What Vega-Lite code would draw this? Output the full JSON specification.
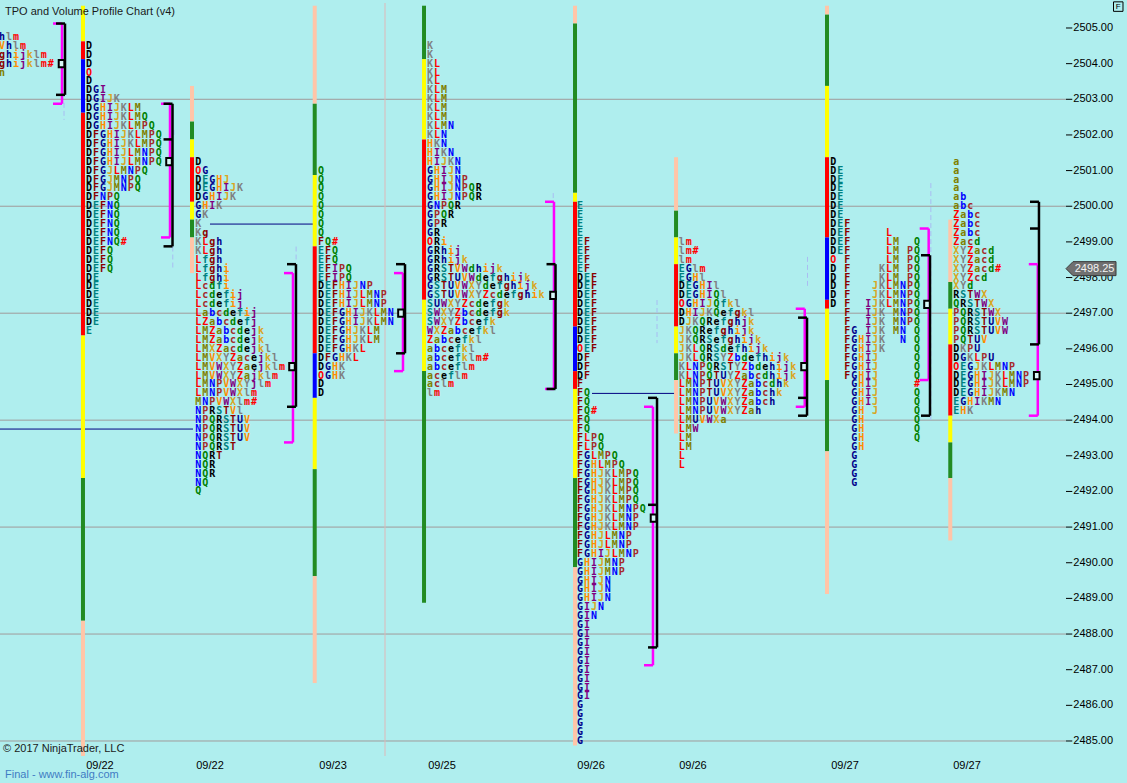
{
"$schema":"https://vega.github.io/schema/vega-lite/v6.json",
"width":1066,"height":753,
"autosize":{"type":"none"},
"padding":{"left":0,"top":3,"right":61,"bottom":27},
"background":"#AFEEEE",
"config":{"view":{"stroke":null},"axis":{"grid":false}},
"resolve":{"scale":{"x":"independent","stroke":"independent"}},
"layer":[
{"layer":[
{"data":{"values":[{"y":2503},{"y":2500},{"y":2497},{"y":2494},{"y":2491},{"y":2488},{"y":2485}]},
"mark":{"type":"rule","color":"#A09A9A","strokeWidth":1},
"encoding":{"y":{"field":"y","type":"quantitative","scale":{"domain":[2484.579,2505.701]},"axis":null}}},
{"data":{"values":[{"x":55.26}]},"mark":{"type":"rule","color":"#DDB8B8","strokeWidth":1},
"encoding":{"x":{"field":"x","type":"quantitative","scale":{"domain":[0,153]},"axis":null}}},
{"data":{"values":[{"x":0,"x2":27.7,"y":2493.75},{"x":30.14,"x2":45.35,"y":2499.5},{"x":84.97,"x2":97.17,"y":2494.75}]},
"mark":{"type":"rule","color":"#000080","strokeWidth":1},
"encoding":{"x":{"field":"x","type":"quantitative","scale":{"domain":[0,153]},"axis":null},"x2":{"field":"x2"},
"y":{"field":"y","type":"quantitative","scale":{"domain":[2484.579,2505.701]},"axis":null}}},
{"data":{"values":[
{"x":11.91,"y":2505.625,"b":2504.625,"s":"Y"},{"x":11.91,"y":2504.625,"b":2504.125,"s":"R"},{"x":11.91,"y":2504.125,"b":2502.625,"s":"B"},{"x":11.91,"y":2502.625,"b":2496.375,"s":"R"},{"x":11.91,"y":2496.375,"b":2492.375,"s":"Y"},{"x":11.91,"y":2492.375,"b":2488.375,"s":"G"},{"x":11.91,"y":2488.375,"b":2484.58,"s":"P"},
{"x":27.56,"y":2503.375,"b":2502.375,"s":"P"},{"x":27.56,"y":2502.375,"b":2501.875,"s":"G"},{"x":27.56,"y":2501.875,"b":2501.375,"s":"Y"},{"x":27.56,"y":2501.375,"b":2500.125,"s":"R"},{"x":27.56,"y":2500.125,"b":2499.625,"s":"Y"},{"x":27.56,"y":2499.625,"b":2499.125,"s":"G"},{"x":27.56,"y":2499.125,"b":2498.125,"s":"P"},
{"x":45.17,"y":2505.625,"b":2502.875,"s":"P"},{"x":45.17,"y":2502.875,"b":2500.875,"s":"G"},{"x":45.17,"y":2500.875,"b":2498.875,"s":"Y"},{"x":45.17,"y":2498.875,"b":2495.875,"s":"R"},{"x":45.17,"y":2495.875,"b":2494.625,"s":"B"},{"x":45.17,"y":2494.625,"b":2492.625,"s":"Y"},{"x":45.17,"y":2492.625,"b":2489.625,"s":"G"},{"x":45.17,"y":2489.625,"b":2486.625,"s":"P"},
{"x":60.86,"y":2505.625,"b":2504.125,"s":"G"},{"x":60.86,"y":2504.125,"b":2501.875,"s":"Y"},{"x":60.86,"y":2501.875,"b":2497.375,"s":"R"},{"x":60.86,"y":2497.375,"b":2495.375,"s":"Y"},{"x":60.86,"y":2495.375,"b":2488.875,"s":"G"},
{"x":82.53,"y":2505.625,"b":2505.125,"s":"P"},{"x":82.53,"y":2505.125,"b":2500.375,"s":"G"},{"x":82.53,"y":2500.375,"b":2500.125,"s":"Y"},{"x":82.53,"y":2500.125,"b":2496.625,"s":"R"},{"x":82.53,"y":2496.625,"b":2495.375,"s":"B"},{"x":82.53,"y":2495.375,"b":2494.875,"s":"R"},{"x":82.53,"y":2494.875,"b":2492.375,"s":"Y"},{"x":82.53,"y":2492.375,"b":2489.875,"s":"G"},{"x":82.53,"y":2489.875,"b":2484.875,"s":"P"},
{"x":97.03,"y":2501.375,"b":2499.875,"s":"P"},{"x":97.03,"y":2499.875,"b":2499.125,"s":"G"},{"x":97.03,"y":2499.125,"b":2498.375,"s":"Y"},{"x":97.03,"y":2498.375,"b":2496.625,"s":"R"},{"x":97.03,"y":2496.625,"b":2495.875,"s":"Y"},{"x":97.03,"y":2495.875,"b":2495.125,"s":"G"},{"x":97.03,"y":2495.125,"b":2493.625,"s":"P"},
{"x":118.7,"y":2505.625,"b":2505.375,"s":"P"},{"x":118.7,"y":2505.375,"b":2503.375,"s":"G"},{"x":118.7,"y":2503.375,"b":2501.375,"s":"Y"},{"x":118.7,"y":2501.375,"b":2499.125,"s":"R"},{"x":118.7,"y":2499.125,"b":2497.375,"s":"B"},{"x":118.7,"y":2497.375,"b":2497.125,"s":"R"},{"x":118.7,"y":2497.125,"b":2495.125,"s":"Y"},{"x":118.7,"y":2495.125,"b":2493.125,"s":"G"},{"x":118.7,"y":2493.125,"b":2489.125,"s":"P"},
{"x":136.39,"y":2499.625,"b":2497.875,"s":"P"},{"x":136.39,"y":2497.875,"b":2497.125,"s":"G"},{"x":136.39,"y":2497.125,"b":2496.125,"s":"Y"},{"x":136.39,"y":2496.125,"b":2494.125,"s":"R"},{"x":136.39,"y":2494.125,"b":2493.375,"s":"Y"},{"x":136.39,"y":2493.375,"b":2492.375,"s":"G"},{"x":136.39,"y":2492.375,"b":2490.625,"s":"P"}
]},
"mark":{"type":"rule","strokeWidth":4,"strokeCap":"butt"},
"encoding":{"x":{"field":"x","type":"quantitative","scale":{"domain":[0,153]},"axis":null},
"y":{"field":"y","type":"quantitative","scale":{"domain":[2484.579,2505.701]},"axis":null},"y2":{"field":"b"},
"stroke":{"field":"s","type":"nominal","scale":{"domain":["Y","R","B","G","P"],"range":["#FFFF00","#FF0000","#0000FF","#228B22","#FFC5A8"]},"legend":null}}},
{"mark":{"type":"rule","color":"#000000","strokeWidth":1.5},
"encoding":{"x":{"datum":153,"type":"quantitative","scale":{"domain":[0,153]},"axis":null}}},
{"mark":{"type":"rule","color":"#000000","strokeWidth":1.5},
"encoding":{"y":{"datum":2484.579,"type":"quantitative","scale":{"domain":[2484.579,2505.701]},"axis":null}}},
{"data":{"values":[{"y":2485},{"y":2486},{"y":2487},{"y":2488},{"y":2489},{"y":2490},{"y":2491},{"y":2492},{"y":2493},{"y":2494},{"y":2495},{"y":2496},{"y":2497},{"y":2498},{"y":2499},{"y":2500},{"y":2501},{"y":2502},{"y":2503},{"y":2504},{"y":2505}]},
"layer":[
{"mark":{"type":"rule","color":"#000000","strokeWidth":1},
"encoding":{"x":{"datum":153,"type":"quantitative","scale":{"domain":[0,153]},"axis":null},"x2":{"datum":153.9},
"y":{"field":"y","type":"quantitative","scale":{"domain":[2484.579,2505.701]},"axis":null}}},
{"mark":{"type":"text","font":"Liberation Sans","fontSize":11,"align":"left","color":"#000000"},
"encoding":{"x":{"datum":154.05,"type":"quantitative","scale":{"domain":[0,153]},"axis":null},
"y":{"field":"y","type":"quantitative","scale":{"domain":[2484.579,2505.701]},"axis":null},
"text":{"field":"y","type":"quantitative","format":".2f"}}}
]}
]},
{"data":{"values":[
{"y":2504.75,"t":["h","l","m"]},{"y":2504.5,"t":["V","h","l","m"]},{"y":2504.25,"t":["g","h","i","j","k","l","m"]},{"y":2504.0,"t":["g","h","i","j","k","l","m","#"]},{"y":2503.75,"t":["n"]}]},
"transform":[{"flatten":["t"]},{"window":[{"op":"row_number","as":"k"}],"groupby":["y"]}],
"mark":{"type":"text","font":"DejaVu Sans Mono","fontWeight":"bold","fontSize":10,"clip":true},
"encoding":{"x":{"field":"k","type":"quantitative","scale":{"domain":[0.713,153.713]},"axis":null},
"y":{"field":"y","type":"quantitative","scale":{"domain":[2484.579,2505.701]},"axis":null},
"text":{"field":"t","type":"nominal"},
"color":{"field":"t","type":"nominal","legend":null,"scale":{"domain":["D","E","F","G","H","I","J","K","L","M","N","O","P","Q","R","S","T","U","V","W","X","Y","Z","a","b","c","d","e","f","g","h","i","j","k","l","m","n","#"],
"range":["#000000","#008080","#8B0000","#00008B","#FF8C00","#800080","#DAA520","#808080","#FF0000","#808000","#0000FF","#FF0000","#A52A2A","#008000","#000000","#008080","#8B0000","#00008B","#FF8C00","#800080","#DAA520","#808080","#FF0000","#808000","#0000FF","#A52A2A","#008000","#000000","#008080","#8B0000","#00008B","#FF8C00","#800080","#DAA520","#808080","#FF0000","#808000","#FF0000"]}}}},
{"data":{"values":[
{"y":2504.5,"t":["D"]},{"y":2504.25,"t":["D"]},{"y":2504.0,"t":["D"]},{"y":2503.75,"t":["O"]},{"y":2503.5,"t":["D"]},
{"y":2503.25,"t":["D","G","I"]},{"y":2503.0,"t":["D","G","I","J","K"]},
{"y":2502.75,"t":["D","G","H","I","J","K","L","M"]},{"y":2502.5,"t":["D","G","H","I","J","K","L","M","Q"]},
{"y":2502.25,"t":["D","G","H","I","J","K","L","M","P","Q"]},{"y":2502.0,"t":["D","F","G","H","I","J","K","L","M","P","Q"]},
{"y":2501.75,"t":["D","F","G","H","I","J","K","L","M","P","Q"]},{"y":2501.5,"t":["D","F","G","H","I","J","L","M","N","P","Q"]},
{"y":2501.25,"t":["D","F","G","H","I","J","L","M","N","P","Q"]},{"y":2501.0,"t":["D","F","G","J","L","M","N","P","Q"]},
{"y":2500.75,"t":["D","F","G","J","M","N","P","Q"]},{"y":2500.5,"t":["D","F","G","J","M","N","P","Q"]},
{"y":2500.25,"t":["D","F","N","P","Q"]},{"y":2500.0,"t":["D","E","F","N","Q"]},{"y":2499.75,"t":["D","E","F","N","Q"]},
{"y":2499.5,"t":["D","E","F","N","Q"]},{"y":2499.25,"t":["D","E","F","N","Q"]},{"y":2499.0,"t":["D","E","F","N","Q","#"]},
{"y":2498.75,"t":["D","E","F","Q"]},{"y":2498.5,"t":["D","E","F","Q"]},{"y":2498.25,"t":["D","E","F","Q"]},
{"y":2498.0,"t":["D","E"]},{"y":2497.75,"t":["D","E"]},{"y":2497.5,"t":["D","E"]},{"y":2497.25,"t":["D","E"]},
{"y":2497.0,"t":["D","E"]},{"y":2496.75,"t":["D","E"]},{"y":2496.5,"t":["E"]}]},
"transform":[{"flatten":["t"]},{"window":[{"op":"row_number","as":"k"}],"groupby":["y"]}],
"mark":{"type":"text","font":"DejaVu Sans Mono","fontWeight":"bold","fontSize":10},
"encoding":{"x":{"field":"k","type":"quantitative","scale":{"domain":[-11.774,141.226]},"axis":null},
"y":{"field":"y","type":"quantitative","scale":{"domain":[2484.579,2505.701]},"axis":null},
"text":{"field":"t","type":"nominal"},"color":{"field":"t","type":"nominal","legend":null}}},
{"data":{"values":[
{"y":2501.25,"t":["D"]},{"y":2501.0,"t":["O","G"]},{"y":2500.75,"t":["D","E","G","H","J"]},{"y":2500.5,"t":["D","E","G","H","I","J","K"]},
{"y":2500.25,"t":["D","G","H","I","J","K"]},{"y":2500.0,"t":["G","H","I","K"]},{"y":2499.75,"t":["G","K"]},{"y":2499.5,"t":["K"]},
{"y":2499.25,"t":["K","g"]},{"y":2499.0,"t":["K","L","g","h"]},{"y":2498.75,"t":["K","L","g","h"]},{"y":2498.5,"t":["L","f","g","h"]},
{"y":2498.25,"t":["L","f","g","h","i"]},{"y":2498.0,"t":["L","f","g","h","i"]},{"y":2497.75,"t":["L","c","d","f","i"]},
{"y":2497.5,"t":["L","c","d","e","f","i","j"]},{"y":2497.25,"t":["L","c","d","e","f","i","j"]},
{"y":2497.0,"t":["L","a","b","c","d","e","f","i","j"]},{"y":2496.75,"t":["L","Z","a","b","c","d","e","f","j"]},
{"y":2496.5,"t":["L","M","Z","a","b","c","d","e","j","k"]},{"y":2496.25,"t":["L","M","Z","a","b","c","d","e","j","k"]},
{"y":2496.0,"t":["L","M","X","Z","a","c","d","e","j","k","l"]},{"y":2495.75,"t":["L","M","V","X","Y","Z","a","c","e","j","k","l"]},
{"y":2495.5,"t":["L","M","V","W","X","Y","Z","a","e","j","k","l","m"]},{"y":2495.25,"t":["L","M","V","W","X","Y","Z","a","j","k","l","m"]},
{"y":2495.0,"t":["L","M","N","P","V","W","X","Y","j","l","m"]},{"y":2494.75,"t":["L","M","N","P","V","W","X","l","m"]},
{"y":2494.5,"t":["M","N","P","V","W","X","l","m","#"]},{"y":2494.25,"t":["N","P","R","S","T","V","l"]},
{"y":2494.0,"t":["N","P","Q","R","S","T","U","V"]},{"y":2493.75,"t":["N","P","Q","R","S","T","U","V"]},{"y":2493.5,"t":["N","P","Q","R","S","T","U","V"]},
{"y":2493.25,"t":["N","P","Q","R","S","T"]},{"y":2493.0,"t":["N","Q","R","T"]},{"y":2492.75,"t":["N","Q","R"]},{"y":2492.5,"t":["N","Q","R"]},
{"y":2492.25,"t":["N","Q"]},{"y":2492.0,"t":["Q"]}]},
"transform":[{"flatten":["t"]},{"window":[{"op":"row_number","as":"k"}],"groupby":["y"]}],
"mark":{"type":"text","font":"DejaVu Sans Mono","fontWeight":"bold","fontSize":10},
"encoding":{"x":{"field":"k","type":"quantitative","scale":{"domain":[-27.462,125.538]},"axis":null},
"y":{"field":"y","type":"quantitative","scale":{"domain":[2484.579,2505.701]},"axis":null},
"text":{"field":"t","type":"nominal"},"color":{"field":"t","type":"nominal","legend":null}}},
{"data":{"values":[
{"y":2501.0,"t":["Q"]},{"y":2500.75,"t":["Q"]},{"y":2500.5,"t":["Q"]},{"y":2500.25,"t":["Q"]},{"y":2500.0,"t":["Q"]},{"y":2499.75,"t":["Q"]},
{"y":2499.5,"t":["Q"]},{"y":2499.25,"t":["Q"]},{"y":2499.0,"t":["F","Q","#"]},{"y":2498.75,"t":["E","F","Q"]},{"y":2498.5,"t":["E","F","Q"]},
{"y":2498.25,"t":["E","F","I","P","Q"]},{"y":2498.0,"t":["E","F","I","P","Q"]},{"y":2497.75,"t":["D","E","F","H","I","J","N","P"]},
{"y":2497.5,"t":["D","E","F","H","I","J","L","M","N","P"]},{"y":2497.25,"t":["D","E","F","H","I","J","L","M","N","P"]},
{"y":2497.0,"t":["D","E","F","G","H","I","J","K","L","M","N"]},{"y":2496.75,"t":["D","E","F","G","H","I","J","K","L","M","N"]},
{"y":2496.5,"t":["D","E","F","G","H","J","K","L","M"]},{"y":2496.25,"t":["D","E","F","G","H","J","K","L","M"]},
{"y":2496.0,"t":["D","E","F","G","H","K","L"]},{"y":2495.75,"t":["D","F","G","H","K","L"]},{"y":2495.5,"t":["D","G","H","K"]},
{"y":2495.25,"t":["O","G","H","K"]},{"y":2495.0,"t":["D"]},{"y":2494.75,"t":["D"]}]},
"transform":[{"flatten":["t"]},{"window":[{"op":"row_number","as":"k"}],"groupby":["y"]}],
"mark":{"type":"text","font":"DejaVu Sans Mono","fontWeight":"bold","fontSize":10},
"encoding":{"x":{"field":"k","type":"quantitative","scale":{"domain":[-45.073,107.927]},"axis":null},
"y":{"field":"y","type":"quantitative","scale":{"domain":[2484.579,2505.701]},"axis":null},
"text":{"field":"t","type":"nominal"},"color":{"field":"t","type":"nominal","legend":null}}},
{"data":{"values":[
{"y":2504.5,"t":["K"]},{"y":2504.25,"t":["K"]},{"y":2504.0,"t":["K","L"]},{"y":2503.75,"t":["K","L"]},{"y":2503.5,"t":["K","L"]},
{"y":2503.25,"t":["K","L","M"]},{"y":2503.0,"t":["K","L","M"]},{"y":2502.75,"t":["K","L","M"]},{"y":2502.5,"t":["K","L","M"]},
{"y":2502.25,"t":["K","L","M","N"]},{"y":2502.0,"t":["K","L","N"]},{"y":2501.75,"t":["H","K","N"]},{"y":2501.5,"t":["H","I","K","N"]},
{"y":2501.25,"t":["H","I","J","K","N"]},{"y":2501.0,"t":["G","H","I","J","N"]},{"y":2500.75,"t":["G","H","I","J","N","P"]},
{"y":2500.5,"t":["G","H","I","J","N","P","Q","R"]},{"y":2500.25,"t":["G","H","I","J","N","P","Q","R"]},{"y":2500.0,"t":["G","N","P","Q","R"]},
{"y":2499.75,"t":["G","P","Q","R"]},{"y":2499.5,"t":["G","P","R"]},{"y":2499.25,"t":["G","R"]},{"y":2499.0,"t":["O","R","i"]},
{"y":2498.75,"t":["G","R","h","i","j"]},{"y":2498.5,"t":["G","R","h","i","j","k"]},
{"y":2498.25,"t":["G","R","S","T","V","W","d","h","i","j","k"]},{"y":2498.0,"t":["G","R","S","T","U","V","W","d","e","f","g","h","i","j","k"]},
{"y":2497.75,"t":["G","S","T","U","V","W","X","Y","d","e","f","g","h","i","j","k"]},
{"y":2497.5,"t":["G","S","T","U","V","W","X","Y","Z","c","d","e","f","g","h","i","k"]},
{"y":2497.25,"t":["S","U","W","X","Y","Z","c","d","e","f","g","k"]},{"y":2497.0,"t":["S","W","X","Y","Z","b","c","d","e","f","g","k"]},
{"y":2496.75,"t":["S","W","X","Y","Z","b","c","e","f","k"]},{"y":2496.5,"t":["W","X","Z","a","b","c","e","f","k","l"]},
{"y":2496.25,"t":["Z","a","b","c","e","f","k","l"]},{"y":2496.0,"t":["a","b","c","e","f","k","l"]},
{"y":2495.75,"t":["a","b","c","e","f","k","l","m","#"]},{"y":2495.5,"t":["a","b","c","e","f","l","m"]},
{"y":2495.25,"t":["a","c","e","f","l","m"]},{"y":2495.0,"t":["a","c","l","m"]},{"y":2494.75,"t":["l","m"]}]},
"transform":[{"flatten":["t"]},{"window":[{"op":"row_number","as":"k"}],"groupby":["y"]}],
"mark":{"type":"text","font":"DejaVu Sans Mono","fontWeight":"bold","fontSize":10},
"encoding":{"x":{"field":"k","type":"quantitative","scale":{"domain":[-60.717,92.283]},"axis":null},
"y":{"field":"y","type":"quantitative","scale":{"domain":[2484.579,2505.701]},"axis":null},
"text":{"field":"t","type":"nominal"},"color":{"field":"t","type":"nominal","legend":null}}},
{"data":{"values":[
{"y":2500.0,"t":["E"]},{"y":2499.75,"t":["E"]},{"y":2499.5,"t":["E"]},{"y":2499.25,"t":["E"]},
{"y":2499.0,"t":["E","F"]},{"y":2498.75,"t":["E","F"]},{"y":2498.5,"t":["E","F"]},{"y":2498.25,"t":["E","F"]},
{"y":2498.0,"t":["D","E","F"]},{"y":2497.75,"t":["D","E","F"]},{"y":2497.5,"t":["D","E","F"]},{"y":2497.25,"t":["D","E","F"]},
{"y":2497.0,"t":["D","E","F"]},{"y":2496.75,"t":["D","E","F"]},{"y":2496.5,"t":["D","E","F"]},{"y":2496.25,"t":["D","E","F"]},
{"y":2496.0,"t":["O","E","F"]},{"y":2495.75,"t":["D","F"]},{"y":2495.5,"t":["D","F"]},{"y":2495.25,"t":["D","F"]},{"y":2495.0,"t":["F"]},
{"y":2494.75,"t":["F","Q"]},{"y":2494.5,"t":["F","Q"]},{"y":2494.25,"t":["F","Q","#"]},{"y":2494.0,"t":["F","Q"]},{"y":2493.75,"t":["F","Q"]},
{"y":2493.5,"t":["F","L","P","Q"]},{"y":2493.25,"t":["F","L","P","Q"]},{"y":2493.0,"t":["F","G","L","M","P","Q"]},
{"y":2492.75,"t":["F","G","H","L","M","P","Q"]},{"y":2492.5,"t":["F","G","H","J","K","L","M","P","Q"]},
{"y":2492.25,"t":["F","G","H","J","K","L","M","P","Q"]},{"y":2492.0,"t":["F","G","H","J","K","L","M","P","Q"]},
{"y":2491.75,"t":["F","G","H","J","K","L","M","P","Q"]},{"y":2491.5,"t":["F","G","H","J","K","L","M","N","P","Q"]},
{"y":2491.25,"t":["F","G","H","J","K","L","M","N","P"]},{"y":2491.0,"t":["F","G","H","J","K","L","M","N","P"]},
{"y":2490.75,"t":["F","G","H","J","L","M","N","P"]},{"y":2490.5,"t":["F","G","H","J","L","M","N","P"]},
{"y":2490.25,"t":["F","G","H","I","J","L","M","N","P"]},{"y":2490.0,"t":["G","H","I","J","M","N","P"]},
{"y":2489.75,"t":["G","H","I","J","M","N","P"]},{"y":2489.5,"t":["G","H","I","J","N"]},{"y":2489.25,"t":["G","H","I","J","N"]},
{"y":2489.0,"t":["G","H","I","J","N"]},{"y":2488.75,"t":["G","I","J","N"]},{"y":2488.5,"t":["G","I","N"]},
{"y":2488.25,"t":["G","I"]},{"y":2488.0,"t":["G","I"]},{"y":2487.75,"t":["G","I"]},{"y":2487.5,"t":["G","I"]},{"y":2487.25,"t":["G","I"]},
{"y":2487.0,"t":["G","I"]},{"y":2486.75,"t":["G","I"]},{"y":2486.5,"t":["G","I"]},{"y":2486.25,"t":["G","I"]},
{"y":2486.0,"t":["G"]},{"y":2485.75,"t":["G"]},{"y":2485.5,"t":["G"]},{"y":2485.25,"t":["G"]},{"y":2485.0,"t":["G"]}]},
"transform":[{"flatten":["t"]},{"window":[{"op":"row_number","as":"k"}],"groupby":["y"]}],
"mark":{"type":"text","font":"DejaVu Sans Mono","fontWeight":"bold","fontSize":10},
"encoding":{"x":{"field":"k","type":"quantitative","scale":{"domain":[-82.246,70.754]},"axis":null},
"y":{"field":"y","type":"quantitative","scale":{"domain":[2484.579,2505.701]},"axis":null},
"text":{"field":"t","type":"nominal"},"color":{"field":"t","type":"nominal","legend":null}}},
{"data":{"values":[
{"y":2499.0,"t":["l","m"]},{"y":2498.75,"t":["l","m","#"]},{"y":2498.5,"t":["l","m"]},{"y":2498.25,"t":["E","G","l","m"]},
{"y":2498.0,"t":["E","G","H","l"]},{"y":2497.75,"t":["D","E","G","H","I","l"]},{"y":2497.5,"t":["D","E","G","H","I","Q","l"]},
{"y":2497.25,"t":["O","G","H","I","J","Q","f","k","l"]},{"y":2497.0,"t":["D","H","I","J","K","Q","e","f","g","k","l"]},
{"y":2496.75,"t":["D","J","K","Q","R","e","f","g","h","j","k"]},{"y":2496.5,"t":["J","K","Q","R","e","f","g","h","i","j","k"]},
{"y":2496.25,"t":["J","K","Q","R","S","e","f","g","h","i","j","k"]},{"y":2496.0,"t":["J","K","L","Q","R","S","d","e","f","h","i","j","k"]},
{"y":2495.75,"t":["J","K","L","Q","R","S","Y","Z","b","d","e","f","h","i","j","k"]},
{"y":2495.5,"t":["K","L","N","P","Q","R","S","T","Y","Z","b","d","e","h","i","j","k"]},
{"y":2495.25,"t":["K","L","N","P","Q","T","U","Y","Z","a","b","c","d","h","i","j","k"]},
{"y":2495.0,"t":["L","M","N","P","T","U","V","X","Y","Z","a","b","c","d","h","k"]},
{"y":2494.75,"t":["L","M","N","P","T","U","V","X","Y","Z","a","b","c","h","k"]},
{"y":2494.5,"t":["L","M","N","P","U","V","W","X","Y","Z","a","b","c","h"]},
{"y":2494.25,"t":["L","M","N","P","U","V","W","X","Y","Z","a","h"]},{"y":2494.0,"t":["L","M","U","V","W","X","a"]},
{"y":2493.75,"t":["L","M","W"]},{"y":2493.5,"t":["L","M"]},{"y":2493.25,"t":["L","M"]},{"y":2493.0,"t":["L"]},{"y":2492.75,"t":["L"]}]},
"transform":[{"flatten":["t"]},{"window":[{"op":"row_number","as":"k"}],"groupby":["y"]}],
"mark":{"type":"text","font":"DejaVu Sans Mono","fontWeight":"bold","fontSize":10},
"encoding":{"x":{"field":"k","type":"quantitative","scale":{"domain":[-96.843,56.157]},"axis":null},
"y":{"field":"y","type":"quantitative","scale":{"domain":[2484.579,2505.701]},"axis":null},
"text":{"field":"t","type":"nominal"},"color":{"field":"t","type":"nominal","legend":null}}},
{"data":{"values":[
{"y":2501.25,"t":["D"]},{"y":2501.0,"t":["D","E"]},{"y":2500.75,"t":["D","E"]},{"y":2500.5,"t":["D","E"]},{"y":2500.25,"t":["D","E"]},
{"y":2500.0,"t":["D","E"]},{"y":2499.75,"t":["D","E"]},{"y":2499.5,"t":["D","E","F"]},
{"y":2499.25,"t":["D","E","F","","","","","","L"]},
{"y":2499.0,"t":["D","E","F","","","","","","L","M","","","Q"]},
{"y":2498.75,"t":["D","E","F","","","","","","L","M","","P","Q"]},
{"y":2498.5,"t":["O","","F","","","","","","L","M","","P","Q"]},
{"y":2498.25,"t":["D","","F","","","","","K","L","M","","P","Q"]},
{"y":2498.0,"t":["D","","F","","","","","K","L","M","","P","Q"]},
{"y":2497.75,"t":["D","","F","","","","J","K","L","M","N","P","Q"]},
{"y":2497.5,"t":["D","","F","","","","J","K","L","M","N","P","Q"]},
{"y":2497.25,"t":["D","","F","","","I","J","K","L","M","N","P","Q"]},
{"y":2497.0,"t":["","","F","","","I","J","K","","M","N","P","Q"]},
{"y":2496.75,"t":["","","F","","","I","J","K","","M","N","P","Q"]},
{"y":2496.5,"t":["","","F","G","","I","J","K","","M","N","","Q"]},
{"y":2496.25,"t":["","","F","G","H","I","J","K","","","N","","Q"]},
{"y":2496.0,"t":["","","F","G","H","I","J","K","","","","","Q"]},
{"y":2495.75,"t":["","","F","G","H","I","J","","","","","","Q"]},
{"y":2495.5,"t":["","","F","G","H","I","J","","","","","","Q"]},
{"y":2495.25,"t":["","","F","G","H","I","J","","","","","","Q"]},
{"y":2495.0,"t":["","","","G","H","I","J","","","","","","#"]},
{"y":2494.75,"t":["","","","G","H","I","J","","","","","","Q"]},
{"y":2494.5,"t":["","","","G","H","I","J","","","","","","Q"]},
{"y":2494.25,"t":["","","","G","H","","J","","","","","","Q"]},
{"y":2494.0,"t":["","","","G","H","","","","","","","","Q"]},
{"y":2493.75,"t":["","","","G","H","","","","","","","","Q"]},
{"y":2493.5,"t":["","","","G","H","","","","","","","","Q"]},
{"y":2493.25,"t":["","","","G","H"]},{"y":2493.0,"t":["","","","G"]},{"y":2492.75,"t":["","","","G"]},
{"y":2492.5,"t":["","","","G"]},{"y":2492.25,"t":["","","","G"]}]},
"transform":[{"flatten":["t"]},{"window":[{"op":"row_number","as":"k"}],"groupby":["y"]}],
"mark":{"type":"text","font":"DejaVu Sans Mono","fontWeight":"bold","fontSize":10},
"encoding":{"x":{"field":"k","type":"quantitative","scale":{"domain":[-118.602,34.398]},"axis":null},
"y":{"field":"y","type":"quantitative","scale":{"domain":[2484.579,2505.701]},"axis":null},
"text":{"field":"t","type":"nominal"},"color":{"field":"t","type":"nominal","legend":null}}},
{"data":{"values":[
{"y":2501.25,"t":["a"]},{"y":2501.0,"t":["a"]},{"y":2500.75,"t":["a"]},{"y":2500.5,"t":["a"]},{"y":2500.25,"t":["a","b"]},
{"y":2500.0,"t":["a","b","c"]},{"y":2499.75,"t":["Z","a","b","c"]},{"y":2499.5,"t":["Z","a","b","c"]},{"y":2499.25,"t":["Z","a","b","c"]},
{"y":2499.0,"t":["Z","a","c","d"]},{"y":2498.75,"t":["X","Y","Z","a","c","d"]},{"y":2498.5,"t":["X","Y","Z","a","c","d"]},
{"y":2498.25,"t":["X","Y","Z","a","c","d","#"]},{"y":2498.0,"t":["X","Y","Z","c","d"]},{"y":2497.75,"t":["X","Y","d"]},
{"y":2497.5,"t":["R","S","T","W","X"]},{"y":2497.25,"t":["Q","R","S","T","W","X"]},{"y":2497.0,"t":["P","Q","R","S","T","W","X"]},
{"y":2496.75,"t":["P","Q","R","S","T","U","V","W"]},{"y":2496.5,"t":["P","Q","R","S","T","U","V","W"]},{"y":2496.25,"t":["P","Q","T","U","V"]},
{"y":2496.0,"t":["D","K","P","U"]},{"y":2495.75,"t":["D","G","K","L","P","U"]},{"y":2495.5,"t":["O","E","G","J","K","L","M","N","P"]},
{"y":2495.25,"t":["D","E","G","H","I","J","K","L","M","N","P"]},{"y":2495.0,"t":["D","E","G","H","I","J","K","L","M","N","P"]},
{"y":2494.75,"t":["D","E","G","H","I","J","K","M","N"]},{"y":2494.5,"t":["E","G","H","I","K","M","N"]},{"y":2494.25,"t":["E","H","K"]}]},
"transform":[{"flatten":["t"]},{"window":[{"op":"row_number","as":"k"}],"groupby":["y"]}],
"mark":{"type":"text","font":"DejaVu Sans Mono","fontWeight":"bold","fontSize":10},
"encoding":{"x":{"field":"k","type":"quantitative","scale":{"domain":[-136.256,16.744]},"axis":null},
"y":{"field":"y","type":"quantitative","scale":{"domain":[2484.579,2505.701]},"axis":null},
"text":{"field":"t","type":"nominal"},"color":{"field":"t","type":"nominal","legend":null}}},
{"layer":[
{"data":{"values":[{"x":133.6,"y":2500.65,"b":2493.92},{"x":115.9,"y":2498.58,"b":2497.7},{"x":94.3,"y":2497.37,"b":2496.16},{"x":24.97,"y":2502.14,"b":2501.91},{"x":24.8,"y":2498.87,"b":2498.2},{"x":42.5,"y":2498.87,"b":2498.49},{"x":9.19,"y":2502.9,"b":2502.42},{"x":79.4,"y":2500.37,"b":2500.18},{"x":79.4,"y":2498.58,"b":2498.4}]},
"mark":{"type":"rule","color":"#A9BDF2","strokeWidth":1,"strokeDash":[5,3]},
"encoding":{"x":{"field":"x","type":"quantitative","scale":{"domain":[0,153]},"axis":null},
"y":{"field":"y","type":"quantitative","scale":{"domain":[2484.579,2505.701]},"axis":null},"y2":{"field":"b"}}},
{"data":{"values":[
{"x":8.9,"xl":7.61,"y":2505.125,"b":2502.875,"c":"m"},{"x":9.33,"xl":8.04,"y":2505.125,"b":2503.125,"c":"k"},
{"x":24.4,"xl":23.11,"y":2502.875,"b":2499.125,"c":"m"},{"x":24.76,"xl":23.47,"y":2502.875,"b":2498.875,"c":"k"},
{"x":42.05,"xl":40.76,"y":2498.125,"b":2493.375,"c":"m"},{"x":42.48,"xl":41.19,"y":2498.375,"b":2494.375,"c":"k"},
{"x":57.84,"xl":56.55,"y":2498.125,"b":2495.375,"c":"m"},{"x":58.13,"xl":56.84,"y":2498.375,"b":2495.875,"c":"k"},
{"x":79.51,"xl":78.22,"y":2500.125,"b":2494.875,"c":"m"},{"x":79.73,"xl":78.44,"y":2498.375,"b":2494.875,"c":"k"},
{"x":93.72,"xl":92.43,"y":2494.375,"b":2487.125,"c":"m"},{"x":94.3,"xl":93.01,"y":2494.625,"b":2487.625,"c":"k"},
{"x":115.5,"xl":114.21,"y":2497.125,"b":2494.375,"c":"m"},{"x":115.83,"xl":114.54,"y":2496.875,"b":2494.125,"c":"k"},
{"x":133.29,"xl":132.0,"y":2499.375,"b":2495.125,"c":"m"},{"x":133.48,"xl":132.19,"y":2498.625,"b":2494.125,"c":"k"},
{"x":148.95,"xl":147.66,"y":2498.375,"b":2494.125,"c":"m"},{"x":149.12,"xl":147.83,"y":2500.125,"b":2496.125,"c":"k"}]},
"layer":[
{"mark":{"type":"rule","strokeWidth":2.5},
"encoding":{"x":{"field":"x","type":"quantitative","scale":{"domain":[0,153]},"axis":null},
"y":{"field":"y","type":"quantitative","scale":{"domain":[2484.579,2505.701]},"axis":null},"y2":{"field":"b"},
"stroke":{"field":"c","type":"nominal","scale":{"domain":["m","k"],"range":["#FF00FF","#000000"]},"legend":null}}},
{"mark":{"type":"rule","strokeWidth":2.5},
"encoding":{"x":{"field":"xl","type":"quantitative","scale":{"domain":[0,153]},"axis":null},"x2":{"field":"x"},
"y":{"field":"y","type":"quantitative","scale":{"domain":[2484.579,2505.701]},"axis":null},
"stroke":{"field":"c","type":"nominal","legend":null}}},
{"mark":{"type":"rule","strokeWidth":2.5},
"encoding":{"x":{"field":"xl","type":"quantitative","scale":{"domain":[0,153]},"axis":null},"x2":{"field":"x"},
"y":{"field":"b","type":"quantitative","scale":{"domain":[2484.579,2505.701]},"axis":null},
"stroke":{"field":"c","type":"nominal","legend":null}}}
]},
{"data":{"values":[{"x":24.76,"xl":23.47,"y":2501.875},{"x":94.3,"xl":93.01,"y":2491.625},{"x":115.83,"xl":114.54,"y":2494.625},{"x":149.12,"xl":147.83,"y":2499.375}]},
"mark":{"type":"rule","strokeWidth":2.5,"color":"#000000"},
"encoding":{"x":{"field":"xl","type":"quantitative","scale":{"domain":[0,153]},"axis":null},"x2":{"field":"x"},
"y":{"field":"y","type":"quantitative","scale":{"domain":[2484.579,2505.701]},"axis":null}}},
{"data":{"values":[{"x":8.83,"y":2504.0},{"x":24.26,"y":2501.25},{"x":41.91,"y":2495.5},{"x":57.55,"y":2497.0},{"x":79.37,"y":2497.5},{"x":93.8,"y":2491.25},{"x":115.4,"y":2495.5},{"x":133.05,"y":2497.25},{"x":148.8,"y":2495.25}]},
"mark":{"type":"point","shape":"M-0.7,-0.9H0.7V0.9H-0.7Z","size":64,"filled":true,"fill":"#D8F8F8","stroke":"#000000","strokeWidth":2,"opacity":1},
"encoding":{"x":{"field":"x","type":"quantitative","scale":{"domain":[0,153]},"axis":null},
"y":{"field":"y","type":"quantitative","scale":{"domain":[2484.579,2505.701]},"axis":null}}},
{"data":{"values":[{"x":156.59,"y":2498.25}]},
"mark":{"type":"point","shape":"M-1,0L-0.72,-0.28L1,-0.28L1,0.28L-0.72,0.28Z","size":2500,"filled":true,"fill":"#707070","stroke":"#3A3A3A","strokeWidth":1,"opacity":1},
"encoding":{"x":{"field":"x","type":"quantitative","scale":{"domain":[0,153]},"axis":null},
"y":{"field":"y","type":"quantitative","scale":{"domain":[2484.579,2505.701]},"axis":null}}},
{"data":{"values":[{"x":157.1,"y":2498.25,"t":"2498.25"}]},
"mark":{"type":"text","font":"Liberation Sans","fontSize":11,"color":"#F4F4F4"},
"encoding":{"x":{"field":"x","type":"quantitative","scale":{"domain":[0,153]},"axis":null},
"y":{"field":"y","type":"quantitative","scale":{"domain":[2484.579,2505.701]},"axis":null},"text":{"field":"t","type":"nominal"}}},
{"data":{"values":[{"x":160.5,"y":2505.6}]},
"mark":{"type":"point","shape":"square","size":90,"filled":false,"stroke":"#000000","strokeWidth":1,"opacity":1},
"encoding":{"x":{"field":"x","type":"quantitative","scale":{"domain":[0,153]},"axis":null},
"y":{"field":"y","type":"quantitative","scale":{"domain":[2484.579,2505.701]},"axis":null}}},
{"data":{"values":[{"x":160.5,"y":2505.6,"t":"F"}]},
"mark":{"type":"text","font":"Liberation Sans","fontSize":8,"color":"#000000"},
"encoding":{"x":{"field":"x","type":"quantitative","scale":{"domain":[0,153]},"axis":null},
"y":{"field":"y","type":"quantitative","scale":{"domain":[2484.579,2505.701]},"axis":null},"text":{"field":"t","type":"nominal"}}},
{"data":{"values":[{"x":0.72,"y":2505.449,"t":"TPO and Volume Profile Chart (v4)"},{"x":0.43,"y":2484.78,"t":"© 2017 NinjaTrader, LLC"}]},
"mark":{"type":"text","font":"Liberation Sans","fontSize":11,"align":"left","color":"#1A1A1A"},
"encoding":{"x":{"field":"x","type":"quantitative","scale":{"domain":[0,153]},"axis":null},
"y":{"field":"y","type":"quantitative","scale":{"domain":[2484.579,2505.701]},"axis":null},"text":{"field":"t","type":"nominal"}}},
{"data":{"values":[{"x":0.72,"y":2484.05,"t":"Final - www.fin-alg.com"}]},
"mark":{"type":"text","font":"Liberation Sans","fontSize":11,"align":"left","color":"#3F7CC4"},
"encoding":{"x":{"field":"x","type":"quantitative","scale":{"domain":[0,153]},"axis":null},
"y":{"field":"y","type":"quantitative","scale":{"domain":[2484.579,2505.701]},"axis":null},"text":{"field":"t","type":"nominal"}}},
{"data":{"values":[{"x":14.35,"y":2484.3,"t":"09/22"},{"x":30.14,"y":2484.3,"t":"09/22"},{"x":47.8,"y":2484.3,"t":"09/23"},{"x":63.44,"y":2484.3,"t":"09/25"},{"x":84.83,"y":2484.3,"t":"09/26"},{"x":99.46,"y":2484.3,"t":"09/26"},{"x":121.28,"y":2484.3,"t":"09/27"},{"x":138.79,"y":2484.3,"t":"09/27"}]},
"mark":{"type":"text","font":"Liberation Sans","fontSize":11,"color":"#000000"},
"encoding":{"x":{"field":"x","type":"quantitative","scale":{"domain":[0,153]},"axis":null},
"y":{"field":"y","type":"quantitative","scale":{"domain":[2484.579,2505.701]},"axis":null},"text":{"field":"t","type":"nominal"}}}
]}
]
}
